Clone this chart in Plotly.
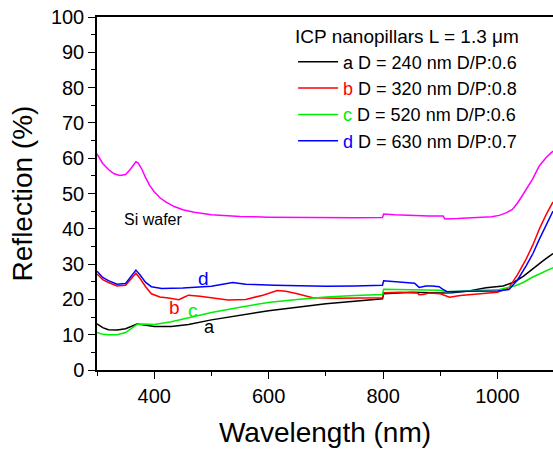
import plotly.graph_objects as go

# Si wafer (magenta)
si_wl = [300, 310, 320, 330, 340, 350, 358, 364, 368, 372, 378, 385, 392, 400, 410, 420, 435, 450, 470, 500, 550, 600, 650, 700, 750, 799, 801, 820, 850, 880, 905, 908, 930, 960, 990, 1003, 1015, 1026, 1035, 1043, 1052, 1061, 1073, 1085, 1097]
si_r = [61.2, 58.5, 56.8, 55.6, 55.1, 55.4, 56.8, 58.3, 59.0, 58.6, 57.0, 54.5, 52.3, 50.5, 48.8, 47.6, 46.3, 45.4, 44.7, 44.0, 43.5, 43.3, 43.2, 43.1, 43.1, 43.2, 44.2, 44.0, 43.7, 43.6, 43.6, 42.8, 42.9, 43.1, 43.4, 43.8, 44.5, 45.5, 47.3, 49.3, 51.7, 54.0, 57.8, 60.2, 62.0]

# a: D = 240 nm (black)
a_wl = [300, 310, 320, 335, 350, 360, 370, 380, 400, 430, 460, 500, 550, 600, 650, 700, 750, 799, 801, 850, 900, 920, 950, 980, 1010, 1030, 1045, 1060, 1080, 1097]
a_r = [13.1, 12.0, 11.4, 11.3, 11.7, 12.4, 13.0, 12.8, 12.3, 12.3, 12.9, 14.2, 15.5, 16.8, 17.8, 18.8, 19.5, 20.2, 21.6, 22.0, 21.8, 21.9, 22.4, 23.3, 23.8, 25.0, 26.5, 28.5, 31.0, 33.0]

# b: D = 320 nm (red)
b_wl = [300, 310, 320, 335, 350, 360, 368, 375, 385, 395, 410, 425, 443, 452, 460, 480, 500, 529, 560, 590, 615, 630, 650, 677, 720, 760, 799, 801, 830, 860, 863, 870, 880, 900, 908, 916, 935, 960, 1000, 1020, 1035, 1050, 1062, 1073, 1085, 1097]
b_r = [27.2, 25.6, 24.8, 23.8, 24.0, 26.0, 27.4, 26.0, 23.6, 21.6, 20.7, 20.4, 19.9, 20.6, 21.2, 20.9, 20.4, 19.8, 20.0, 21.2, 22.5, 22.3, 21.6, 20.5, 20.3, 20.4, 20.5, 21.9, 22.0, 21.8, 21.3, 21.4, 21.8, 21.6, 21.0, 20.6, 21.1, 21.5, 22.0, 23.3, 27.0, 31.4, 35.5, 39.9, 44.0, 47.6]

# c: D = 520 nm (green)
c_wl = [300, 310, 320, 335, 350, 360, 370, 380, 400, 430, 466, 500, 550, 602, 650, 700, 750, 799, 801, 850, 900, 910, 950, 1000, 1030, 1045, 1060, 1080, 1097]
c_r = [10.6, 10.1, 10.0, 10.0, 10.6, 11.8, 12.9, 13.0, 12.9, 13.7, 15.0, 16.3, 17.8, 19.2, 20.0, 20.7, 21.1, 21.4, 22.9, 22.8, 22.6, 22.2, 22.4, 22.7, 23.8, 24.8, 26.2, 27.7, 29.0]

# d: D = 630 nm (blue)
d_wl = [300, 310, 320, 335, 350, 360, 368, 375, 385, 395, 413, 450, 500, 537, 560, 610, 650, 700, 750, 799, 801, 830, 855, 863, 875, 886, 898, 904, 912, 950, 1000, 1020, 1035, 1050, 1062, 1073, 1085, 1097]
d_r = [28.0, 26.2, 25.3, 24.3, 24.5, 26.5, 28.3, 27.0, 24.8, 23.6, 23.1, 23.2, 23.7, 24.8, 24.3, 24.0, 23.8, 23.7, 23.8, 24.0, 25.3, 25.0, 24.6, 23.4, 23.8, 23.8, 23.6, 22.9, 22.2, 22.3, 22.4, 22.8, 25.5, 29.5, 33.0, 37.0, 41.0, 45.0]

x_ticks = [400, 600, 800, 1000]
y_ticks = [0, 10, 20, 30, 40, 50, 60, 70, 80, 90, 100]

series = [
    ("<span style='color:black'>a</span> D = 240 nm D/P:0.6", a_wl, a_r, "#000000"),
    ("<span style='color:#ff0000'>b</span> D = 320 nm D/P:0.8", b_wl, b_r, "#ff0000"),
    ("<span style='color:#00ee00'>c</span> D = 520 nm D/P:0.6", c_wl, c_r, "#00ee00"),
    ("<span style='color:#0000ff'>d</span> D = 630 nm D/P:0.7", d_wl, d_r, "#0000ff"),
]

FONT = "Liberation Sans, Arial, sans-serif"

fig = go.Figure()
fig.add_trace(go.Scatter(x=si_wl, y=si_r, mode="lines", line=dict(color="#ff00ff", width=1.5), showlegend=False))
for name, xs, ys, col in series:
    fig.add_trace(go.Scatter(x=xs, y=ys, mode="lines", name=name, line=dict(color=col, width=1.5)))

# curve labels
labels = [("Si wafer", 397, 42.6, "black", 16), ("a", 497, 12.2, "black", 18), ("b", 436, 17.6, "#ff0000", 19),
          ("c", 467, 16.8, "#00ee00", 19), ("d", 486, 26.0, "#0000ff", 19)]
for t, xx, yy, col, fs in labels:
    fig.add_annotation(x=xx, y=yy, text=t, showarrow=False, font=dict(color=col, size=fs, family=FONT))

fig.update_layout(
    width=553, height=451, autosize=False,
    margin=dict(l=97, r=0, t=17, b=81, autoexpand=False),
    paper_bgcolor="white", plot_bgcolor="white",
    font=dict(family=FONT, color="black"),
    legend=dict(
        title=dict(text="ICP nanopillars L = 1.3 \u03bcm", font=dict(size=19)),
        x=0.43, y=0.995, xanchor="left", yanchor="top",
        font=dict(size=18), bgcolor="rgba(0,0,0,0)",
        tracegroupgap=0, itemwidth=40,
    ),
    xaxis=dict(
        range=[300, 1097], tickvals=x_ticks, showgrid=False, zeroline=False,
        showline=True, linecolor="black", linewidth=1.5, mirror=True,
        ticks="outside", ticklen=7, tickwidth=1.2, tickcolor="black",
        minor=dict(ticks="outside", dtick=100, ticklen=4, tickcolor="black", tickwidth=1.2),
        tickfont=dict(size=20),
        title=dict(text="Wavelength (nm)", font=dict(size=28), standoff=17),
    ),
    yaxis=dict(
        range=[0, 100], tickvals=y_ticks, showgrid=False, zeroline=False,
        showline=True, linecolor="black", linewidth=1.5,
        ticks="outside", ticklen=7, tickwidth=1.2, tickcolor="black",
        minor=dict(ticks="outside", dtick=5, ticklen=4, tickcolor="black", tickwidth=1.2),
        tickfont=dict(size=20),
        title=dict(text="Reflection (%)", font=dict(size=28), standoff=10),
    ),
)

fig.write_html(
    "out.html",
    config={"responsive": False, "displayModeBar": False},
    post_script="document.body.style.margin='0';document.body.style.overflow='hidden';",
)
